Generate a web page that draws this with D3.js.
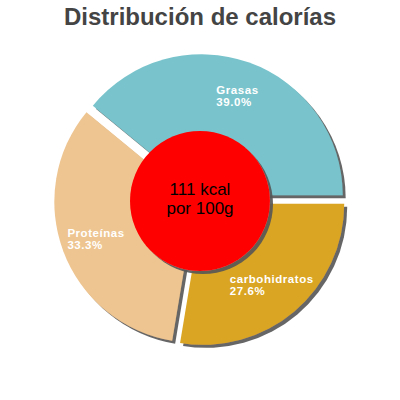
<!DOCTYPE html>
<html>
<head>
<meta charset="utf-8">
<script src="https://cdn.jsdelivr.net/npm/d3@7"></script>
<style>
  body { margin: 0; background: #fff; }
</style>
</head>
<body>
<div id="chart"></div>
<script>
var categories = ['carbohidratos', 'Proteínas', 'Grasas'];
var values = [27.6, 33.3, 39.0];
var colors = ['#DAA520', '#EEC591', '#79C4CC'];
var title = 'Distribución de calorías';
var centerLines = ['111 kcal', 'por 100g'];

(function() {
var WIDTH = 400;
var HEIGHT = 400;
var CX = 200;
var CY = 200;
var RADIUS = 141;
var HOLE = 70;
var OFFSET = 5;
var LABEL_R = 106;

var svg = d3.select('#chart').append('svg')
  .attr('width', WIDTH)
  .attr('height', HEIGHT)
  .style('font-family', '"Liberation Sans", Arial, sans-serif');

var filter = svg.append('defs').append('filter')
  .attr('id', 'shadow')
  .attr('x', '-10%').attr('y', '-10%')
  .attr('width', '130%').attr('height', '130%');
filter.append('feDropShadow')
  .attr('dx', 3)
  .attr('dy', 3)
  .attr('stdDeviation', 0.6)
  .attr('flood-color', '#555')
  .attr('flood-opacity', 0.9);

svg.append('text')
  .attr('x', WIDTH / 2)
  .attr('y', 25)
  .attr('text-anchor', 'middle')
  .style('font-size', '24px')
  .style('font-weight', 'bold')
  .style('fill', '#444')
  .text(title);

var data = categories.map(function(c, i) {
  return { name: c, value: values[i], color: colors[i] };
});

var pie = d3.pie()
  .sort(null)
  .value(function(d) { return d.value; })
  .startAngle(Math.PI / 2)
  .endAngle(Math.PI / 2 + 2 * Math.PI);

var arc = d3.arc()
  .innerRadius(0)
  .outerRadius(RADIUS);

var arcs = pie(data);

// every slice is pushed out a little along its middle
function shift(d, r) {
  var a = (d.startAngle + d.endAngle) / 2;
  return [Math.sin(a) * r, -Math.cos(a) * r];
}

var slices = svg.append('g')
  .attr('transform', 'translate(' + CX + ',' + CY + ')');

slices.selectAll('path')
  .data(arcs)
  .enter().append('path')
  .attr('d', arc)
  .attr('transform', function(d) {
    var s = shift(d, OFFSET);
    return 'translate(' + s[0] + ',' + s[1] + ')';
  })
  .attr('fill', function(d) { return d.data.color; })
  .attr('filter', 'url(#shadow)');

var labels = slices.selectAll('g.label')
  .data(arcs)
  .enter().append('g')
  .attr('class', 'label');

labels.each(function(d) {
  var g = d3.select(this);
  var s = shift(d, OFFSET);
  var p = shift(d, LABEL_R);
  var t = g.append('text')
    .style('font-size', '11.5px')
    .style('font-weight', 'bold')
    .style('letter-spacing', '0.55px')
    .style('fill', '#fff');
  t.append('tspan').attr('x', 0).attr('y', 0).text(d.data.name);
  t.append('tspan').attr('x', 0).attr('y', 12).text(d.data.value.toFixed(1) + '%');
  var w = t.node().getBBox().width;
  g.attr('transform', 'translate(' + (s[0] + p[0] - w / 2) + ',' + (s[1] + p[1] - 2) + ')');
});

svg.append('circle')
  .attr('cx', CX)
  .attr('cy', CY + 1)
  .attr('r', HOLE)
  .attr('fill', '#FF0000')
  .attr('filter', 'url(#shadow)');

svg.append('g').selectAll('text')
  .data(centerLines)
  .enter().append('text')
  .attr('x', CX)
  .attr('y', function(d, i) { return 195 + i * 19; })
  .attr('text-anchor', 'middle')
  .style('font-size', '17px')
  .style('fill', '#000')
  .text(function(d) { return d; });
})();
</script>
</body>
</html>
